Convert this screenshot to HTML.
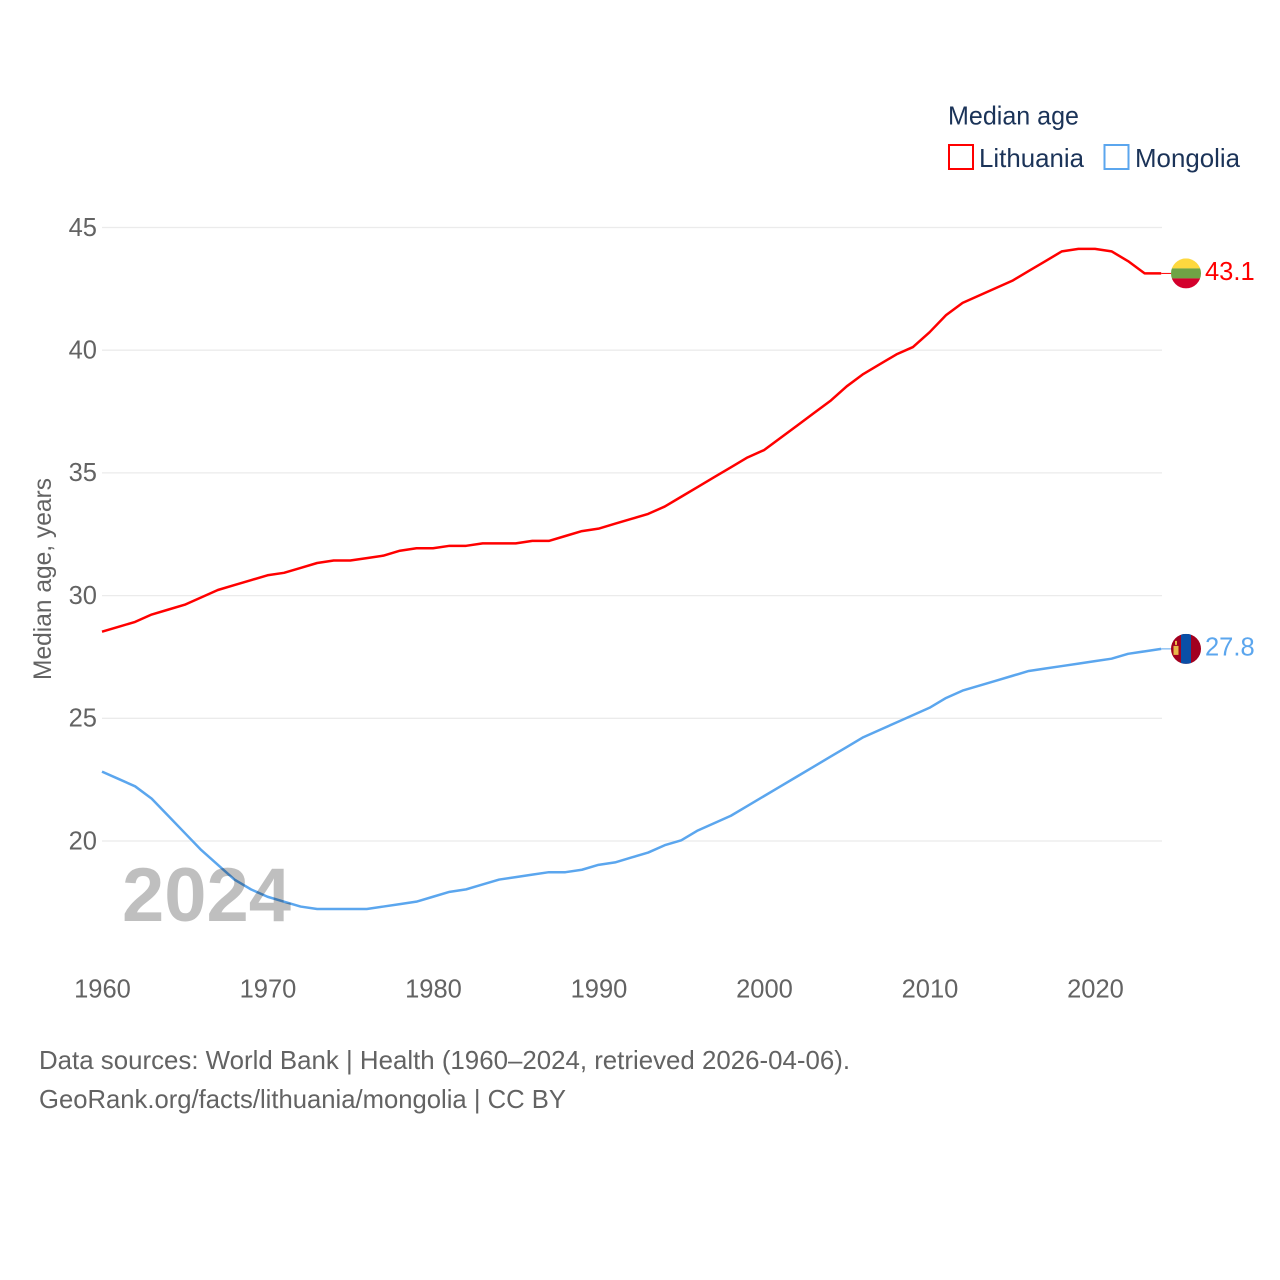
<!DOCTYPE html>
<html lang="en">
<head>
<meta charset="utf-8">
<title>Median age: Lithuania and Mongolia</title>
<style>
html,body{margin:0;padding:0;background:#fff;}
svg{display:block;}
text{font-family:"Liberation Sans",sans-serif;}
</style>
</head>
<body>
<svg id="chart" xmlns="http://www.w3.org/2000/svg" width="1280" height="1280" viewBox="0 0 1280 1280">
  <defs>
    <clipPath id="flag-clip-lt"><circle id="clip-lt" cx="1186" cy="273" r="15"></circle></clipPath>
    <clipPath id="flag-clip-mn"><circle id="clip-mn" cx="1186" cy="649" r="15"></circle></clipPath>
  </defs>
  <g id="grid"></g>
  <g id="yticks"></g>
  <g id="xticks"></g>
  <text transform="translate(51,680) rotate(-90)" font-size="25" fill="#636363" textLength="202" lengthAdjust="spacingAndGlyphs">Median age, years</text>
  <g id="series"></g>
  <text x="122" y="921" font-size="76" font-weight="700" fill="#000" fill-opacity="0.25">2024</text>

  <g id="flag-lt" clip-path="url(#flag-clip-lt)">
    <rect id="lt-a" x="1171" width="30" height="10" fill="#fdd83f"></rect>
    <rect id="lt-b" x="1171" width="30" height="10" fill="#6fa345"></rect>
    <rect id="lt-c" x="1171" width="30" height="10" fill="#d3002c"></rect>
  </g>
  <g id="flag-mn" clip-path="url(#flag-clip-mn)">
    <rect id="mn-a" x="1171" width="30" height="30" fill="#a2001f"></rect>
    <rect id="mn-b" x="1181" width="10" height="30" fill="#0a4fa6"></rect>
    <rect id="mn-c" x="1173.500" width="5" height="9" fill="#e8b94a"></rect>
    <rect id="mn-d" x="1175" width="2" height="4" fill="#e8b94a"></rect>
  </g>

  <g>
    <text x="948" y="124.500" font-size="26" fill="#1b3358" textLength="131" lengthAdjust="spacingAndGlyphs">Median age</text>
    <rect x="949" y="145" width="24" height="24" fill="#fff" stroke="#ff0000" stroke-width="2"></rect>
    <text x="979" y="167" font-size="26" fill="#1b3358" textLength="105" lengthAdjust="spacingAndGlyphs">Lithuania</text>
    <rect x="1104.500" y="145" width="24" height="24" fill="#fff" stroke="#5ba6ee" stroke-width="2"></rect>
    <text x="1135" y="167" font-size="26" fill="#1b3358" textLength="105" lengthAdjust="spacingAndGlyphs">Mongolia</text>
  </g>

  <g>
    <text x="39" y="1069" font-size="26" fill="#636363" textLength="811" lengthAdjust="spacingAndGlyphs">Data sources: World Bank | Health (1960–2024, retrieved 2026-04-06).</text>
    <text x="39" y="1108" font-size="26" fill="#636363" textLength="527" lengthAdjust="spacingAndGlyphs">GeoRank.org/facts/lithuania/mongolia | CC BY</text>
  </g>
</svg>
<script>
const years = [1960,1961,1962,1963,1964,1965,1966,1967,1968,1969,1970,1971,1972,1973,1974,1975,1976,1977,1978,1979,1980,1981,1982,1983,1984,1985,1986,1987,1988,1989,1990,1991,1992,1993,1994,1995,1996,1997,1998,1999,2000,2001,2002,2003,2004,2005,2006,2007,2008,2009,2010,2011,2012,2013,2014,2015,2016,2017,2018,2019,2020,2021,2022,2023,2024];
const lithuania = [28.5,28.7,28.9,29.2,29.4,29.6,29.9,30.2,30.4,30.6,30.8,30.9,31.1,31.3,31.4,31.4,31.5,31.6,31.8,31.9,31.9,32.0,32.0,32.1,32.1,32.1,32.2,32.2,32.4,32.6,32.7,32.9,33.1,33.3,33.6,34.0,34.4,34.8,35.2,35.6,35.9,36.4,36.9,37.4,37.9,38.5,39.0,39.4,39.8,40.1,40.7,41.4,41.9,42.2,42.5,42.8,43.2,43.6,44.0,44.1,44.1,44.0,43.6,43.1,43.1];
const mongolia = [22.8,22.5,22.2,21.7,21.0,20.3,19.6,19.0,18.4,18.0,17.7,17.5,17.3,17.2,17.2,17.2,17.2,17.3,17.4,17.5,17.7,17.9,18.0,18.2,18.4,18.5,18.6,18.7,18.7,18.8,19.0,19.1,19.3,19.5,19.8,20.0,20.4,20.7,21.0,21.4,21.8,22.2,22.6,23.0,23.4,23.8,24.2,24.5,24.8,25.1,25.4,25.8,26.1,26.3,26.5,26.7,26.9,27.0,27.1,27.2,27.3,27.4,27.6,27.7,27.8];
const yTickValues = [20,25,30,35,40,45];
const xTickValues = [1960,1970,1980,1990,2000,2010,2020];

const NS = 'http://www.w3.org/2000/svg';
const xScale = function (year) { return 102 + (year - 1960) * 16.55; };
const yScale = function (value) { return 841 - (value - 20) * 24.54; };
const dataY = function (value) { return yScale(value) - 0.7; };

function make(tag, parent, attrs) {
  const el = document.createElementNS(NS, tag);
  Object.keys(attrs).forEach(function (k) { el.setAttribute(k, attrs[k]); });
  parent.appendChild(el);
  return el;
}

const gridGroup = document.getElementById('grid');
const yGroup = document.getElementById('yticks');
yTickValues.forEach(function (v) {
  const line = make('line', gridGroup, { x1: 102, x2: 1162, y1: yScale(v), y2: yScale(v), stroke: '#ebebeb', 'stroke-width': 1.3 });
  
  
  const label = make('text', yGroup, { x: 97, y: yScale(v) + 8.300, 'font-size': 25.5, fill: '#636363', 'text-anchor': 'end' });
  label.textContent = String(v);
  
  
});

const xGroup = document.getElementById('xticks');
xTickValues.forEach(function (v) {
  const label = make('text', xGroup, { x: xScale(v) + 0.5, y: 997.500, 'font-size': 25.5, fill: '#636363', 'text-anchor': 'middle' });
  label.textContent = String(v);
  
  
});

const seriesGroup = document.getElementById('series');
function drawSeries(values, color, seriesName) {
  const pts = values.map(function (v, i) { return xScale(years[i]).toFixed(2) + ',' + dataY(v).toFixed(2); }).join(' ');
  const poly = make('polyline', seriesGroup, { points: pts, fill: 'none', stroke: color, 'stroke-width': 2.5, 'stroke-linejoin': 'round' });
  
  

  const last = values[values.length - 1];
  const lastX = xScale(years[years.length - 1]);
  const lastY = dataY(last);
  const connector = make('line', seriesGroup, { x1: lastX, x2: lastX + 10, y1: lastY, y2: lastY, stroke: color, 'stroke-width': 1 });
  
  

  const endLabel = make('text', seriesGroup, { x: 1205, y: lastY + 6.700, 'font-size': 25.5, fill: color });
  endLabel.textContent = last.toFixed(1);
  
  
  return lastY;
}
const ltY = drawSeries(lithuania, '#ff0000', 'lithuania');
const mnY = drawSeries(mongolia, '#5ba6ee', 'mongolia');

// Flag markers follow the last value of each series
document.getElementById('clip-lt').setAttribute('cy', ltY);
document.getElementById('clip-mn').setAttribute('cy', mnY);
document.getElementById('lt-a').setAttribute('y', ltY - 15);
document.getElementById('lt-b').setAttribute('y', ltY - 5);
document.getElementById('lt-c').setAttribute('y', ltY + 5);
document.getElementById('mn-a').setAttribute('y', mnY - 15);
document.getElementById('mn-b').setAttribute('y', mnY - 15);
document.getElementById('mn-c').setAttribute('y', mnY - 3);
document.getElementById('mn-d').setAttribute('y', mnY - 8);
</script>
</body>
</html>
